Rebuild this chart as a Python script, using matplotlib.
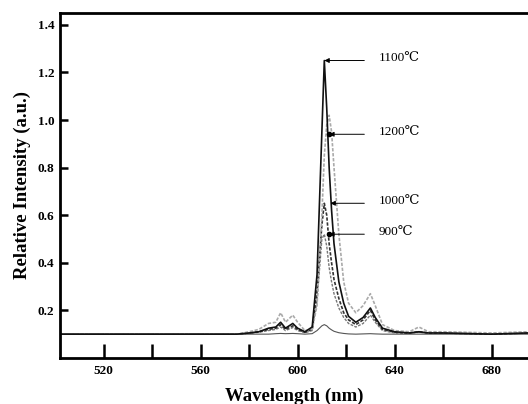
import matplotlib
matplotlib.use('Agg')
import matplotlib.pyplot as plt

# wavelength grid (nm)
wavelength = [502, 520, 540, 560, 575, 580, 584, 588, 591, 593, 595, 598, 600, 603,
              606, 608, 610, 611, 612, 613, 614, 615, 617, 619, 621, 624, 627, 630,
              632, 635, 640, 646, 650, 654, 660, 680, 695]

i_1100 = [0.100, 0.100, 0.100, 0.100, 0.100, 0.105, 0.110, 0.125, 0.130, 0.150, 0.125, 0.145, 0.125, 0.110,
          0.130, 0.350, 0.950, 1.250, 1.050, 0.800, 0.620, 0.480, 0.320, 0.230, 0.175, 0.150, 0.170, 0.210,
          0.170, 0.125, 0.110, 0.105, 0.110, 0.105, 0.105, 0.100, 0.105]
i_1200 = [0.100, 0.100, 0.100, 0.100, 0.100, 0.110, 0.120, 0.145, 0.150, 0.190, 0.150, 0.180, 0.150, 0.115,
          0.120, 0.220, 0.600, 0.850, 0.980, 1.020, 0.950, 0.800, 0.520, 0.320, 0.230, 0.190, 0.220, 0.270,
          0.220, 0.140, 0.115, 0.110, 0.130, 0.110, 0.110, 0.105, 0.110]
i_1000 = [0.100, 0.100, 0.100, 0.100, 0.100, 0.105, 0.110, 0.120, 0.125, 0.140, 0.120, 0.135, 0.120, 0.108,
          0.120, 0.280, 0.560, 0.650, 0.600, 0.480, 0.400, 0.330, 0.250, 0.190, 0.160, 0.140, 0.160, 0.200,
          0.160, 0.120, 0.108, 0.105, 0.110, 0.105, 0.105, 0.100, 0.105]
i_900 = [0.100, 0.100, 0.100, 0.100, 0.100, 0.103, 0.108, 0.115, 0.120, 0.130, 0.115, 0.128, 0.115, 0.106,
         0.115, 0.240, 0.500, 0.520, 0.470, 0.380, 0.320, 0.270, 0.210, 0.170, 0.145, 0.130, 0.145, 0.180,
         0.150, 0.115, 0.105, 0.103, 0.108, 0.103, 0.103, 0.100, 0.103]
i_low = [0.100, 0.100, 0.100, 0.100, 0.100, 0.100, 0.100, 0.100, 0.102, 0.103, 0.102, 0.103, 0.102, 0.100,
         0.102, 0.115, 0.135, 0.140, 0.135, 0.125, 0.118, 0.112, 0.106, 0.103, 0.101, 0.100, 0.101, 0.102,
         0.101, 0.100, 0.100, 0.100, 0.100, 0.100, 0.100, 0.100, 0.100]

labels = ['1100\u2103', '1200\u2103', '1000\u2103', '900\u2103']
label_points = [(611, 1.25), (613, 0.94), (613.5, 0.65), (613, 0.52)]
dot_labels = ['1200\u2103', '900\u2103']

plt.rcParams['font.family'] = ['Liberation Serif', 'DejaVu Serif']

fig = plt.figure(figsize=(5.28, 4.04), dpi=100)
ax = fig.add_axes([0.1136, 0.114, 0.8864, 0.854])

ax.plot(wavelength, i_low, color='#555555', lw=0.8)
ax.plot(wavelength, i_900, color='#777777', lw=1.0, ls=(0, (2, 1)))
ax.plot(wavelength, i_1000, color='#333333', lw=1.2, ls=(0, (2, 1)))
ax.plot(wavelength, i_1200, color='#aaaaaa', lw=1.2, ls=(0, (2, 1)))
ax.plot(wavelength, i_1100, color='#111111', lw=1.2)

for lab, (x, y) in zip(labels, label_points):
    ax.annotate('', xy=(x, y), xytext=(627.5, y),
                arrowprops=dict(arrowstyle='-|>', color='black', lw=0.7,
                                mutation_scale=7, shrinkA=0, shrinkB=0))
    if lab in dot_labels:
        ax.plot([x], [y], 'o', color='black', ms=3)
    ax.text(633.5, y + 0.01, lab, fontsize=9.5, va='center', ha='left')

ax.set_xlim(502, 695)
ax.set_ylim(0, 1.45)
ax.set_xticks([520, 560, 600, 640, 680])
ax.set_xticks([540, 580, 620, 660], minor=True)
ax.set_yticks([0.2, 0.4, 0.6, 0.8, 1.0, 1.2, 1.4])
ax.set_yticklabels(['0.2', '0.4', '0.6', '0.8', '1.0', '1.2', '1.4'])
ax.tick_params(axis='both', which='both', direction='in', width=1.8, labelsize=9.5)
ax.tick_params(axis='x', which='both', length=10, pad=5)
ax.tick_params(axis='y', length=6, pad=4)
for t in ax.get_xticklabels() + ax.get_yticklabels():
    t.set_fontweight('bold')

ax.spines['right'].set_visible(False)
for s in ['left', 'bottom', 'top']:
    ax.spines[s].set_linewidth(2)

ax.set_xlabel('Wavelength (nm)', fontsize=13.5, fontweight='bold', labelpad=8)
ax.set_ylabel('Relative Intensity (a.u.)', fontsize=13.5, fontweight='bold', labelpad=5)

plt.savefig('out.png', dpi=100)
plt.close()
